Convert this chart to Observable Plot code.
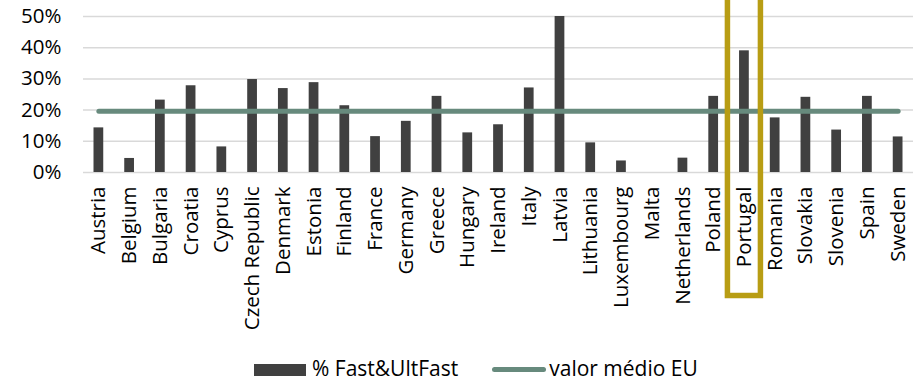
<!DOCTYPE html>
<html>
<head>
<meta charset="utf-8">
<script src="https://cdn.jsdelivr.net/npm/d3@7"></script>
<script src="https://cdn.jsdelivr.net/npm/@observablehq/plot@0.6"></script>
<style>
  html, body { margin: 0; padding: 0; background: #fff; }
  body { width: 920px; height: 383px; position: relative; overflow: hidden; font-family: "Open Sans", sans-serif; }
  #legend { position: absolute; left: 254px; top: 354px; height: 28px; line-height: 28px; display: flex; align-items: center; font-size: 21px; color: #000; white-space: nowrap; }
  .sw-bar { width: 52px; height: 12px; background: #404040; margin-right: 6px; margin-top: 3px; }
  .sw-line { width: 54px; height: 5px; background: #678a7d; border-radius: 3px; margin-left: 34px; margin-right: 3px; margin-top: 2px; }
</style>
</head>
<body>
<div id="chart"></div>
<div id="legend">
  <span class="sw-bar"></span><span>% Fast&amp;UltFast</span>
  <span class="sw-line"></span><span>valor médio EU</span>
</div>
<script>
// EU member states, in alphabetical order
const countries = [
  "Austria", "Belgium", "Bulgaria", "Croatia", "Cyprus", "Czech Republic",
  "Denmark", "Estonia", "Finland", "France", "Germany", "Greece", "Hungary",
  "Ireland", "Italy", "Latvia", "Lithuania", "Luxembourg", "Malta",
  "Netherlands", "Poland", "Portugal", "Romania", "Slovakia", "Slovenia",
  "Spain", "Sweden"
];

// Share of fast & ultra-fast chargers (%)
const fastShare = [
  14.3, 4.5, 23.2, 27.8, 8.2, 29.8,
  26.9, 28.8, 21.4, 11.5, 16.4, 24.4, 12.7,
  15.3, 27.1, 50.0, 9.5, 3.7, 0,
  4.6, 24.4, 39.0, 17.5, 24.1, 13.6,
  24.4, 11.4
];

// EU average (%)
const avgEU = 19.6;

const yTicks = [0, 10, 20, 30, 40, 50];
const highlight = "Portugal";

const rows = countries.map((country, i) => ({country, value: fastShare[i], avg: avgEU}));

const plot = Plot.plot({
  width: 920,
  height: 354,
  marginLeft: 83,
  marginRight: 7,
  marginTop: 16,
  marginBottom: 182,
  style: {fontFamily: "Open Sans, sans-serif", color: "#000", background: "#fff", overflow: "visible"},
  x: {domain: countries, padding: 0, round: false, label: null},
  y: {domain: [0, 50], label: null},
  marks: [
    Plot.gridY(yTicks, {stroke: "#d9d9d9", strokeOpacity: 1, strokeWidth: 1.5}),
    Plot.barY(rows, {x: "country", y: "value", fill: "#404040", insetLeft: 10.5, insetRight: 10.5}),
    Plot.lineY(rows, {x: "country", y: "avg", stroke: "#678a7d", strokeWidth: 5, strokeLinecap: "round"}),
    Plot.axisX({tickSize: 0, tickRotate: -90, tickPadding: 14, fontSize: 20.5, label: null}),
    Plot.axisY({ticks: yTicks, tickSize: 0, tickPadding: 22, fontSize: 20.5, tickFormat: d => d + "%", label: null})
  ]
});

document.getElementById("chart").appendChild(plot);

// Highlight frame around the selected country's column and label
const xs = plot.scale("x");
const cx = xs.apply(highlight) + xs.bandwidth / 2;
const yBase = plot.scale("y").apply(0);
d3.select(plot).append("rect")
  .attr("x", cx - 16.5)
  .attr("y", -10)
  .attr("width", 33)
  .attr("height", yBase + 123.5 + 10)
  .attr("fill", "none")
  .attr("stroke", "#b89d14")
  .attr("stroke-width", 5.5);
</script>
</body>
</html>
